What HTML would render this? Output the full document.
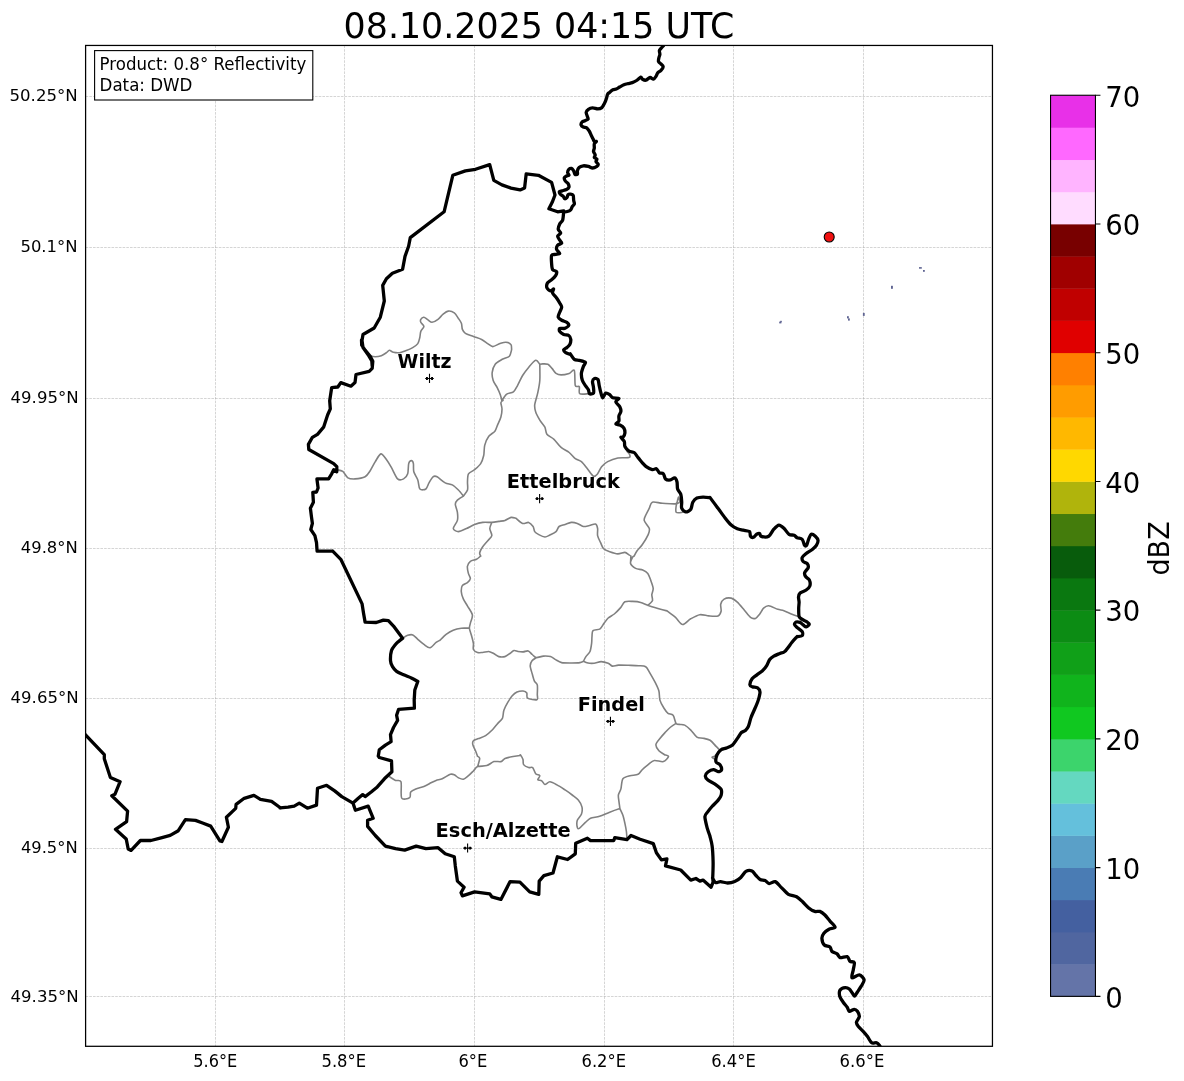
<!DOCTYPE html>
<html lang="en"><head><meta charset="utf-8"><title>Radar 08.10.2025 04:15 UTC</title>
<style>html,body{margin:0;padding:0;background:#fff}svg{display:block}text{font-family:"DejaVu Sans","Liberation Sans",sans-serif;fill:#000}.b{font-weight:bold}</style></head><body>
<svg width="1184" height="1081" viewBox="0 0 1184 1081">
<rect width="1184" height="1081" fill="#fff"/>
<defs><clipPath id="ax"><rect x="85.6" y="45.45" width="906.85" height="1000.85"/></clipPath></defs>
<path d="M215.5 45.45V1046.3M344.5 45.45V1046.3M474.5 45.45V1046.3M604.5 45.45V1046.3M733.5 45.45V1046.3M863.5 45.45V1046.3M85.6 96.5H992.45M85.6 247.5H992.45M85.6 398.5H992.45M85.6 548.5H992.45M85.6 698.5H992.45M85.6 848.5H992.45M85.6 996.5H992.45" stroke="#999" stroke-opacity="0.52" stroke-width="0.8" stroke-dasharray="2.6 1.1" fill="none"/>
<g fill="#5f6492"><rect x="779.2" y="321.6" width="2.2" height="1.8"/><rect x="780.2" y="320.8" width="1.6" height="1.4"/><rect x="847" y="316.2" width="1.8" height="2.2"/><rect x="848" y="318.4" width="1.8" height="2.2"/><rect x="862.9" y="312.9" width="1.8" height="3"/><rect x="891" y="285.8" width="1.9" height="3"/><rect x="919" y="267.1" width="2.8" height="1.6"/><rect x="923" y="270" width="1.8" height="1.8"/></g>

<g clip-path="url(#ax)" fill="none" stroke-linejoin="round" stroke-linecap="round">
<path stroke="#808080" stroke-width="1.6" d="M369.1 355.7C370.0 355.9 373.5 356.8 375.2 356.8C376.9 356.8 379.7 356.3 381.3 355.7C382.9 355.1 385.2 353.5 386.4 352.7C387.6 351.9 388.4 350.4 389.4 350.3C390.4 350.2 392.0 352.0 393.4 352.3C394.8 352.6 397.8 352.9 399.5 352.7C401.2 352.5 403.7 351.4 405.6 350.7C407.5 350.0 411.0 348.6 412.7 347.6C414.4 346.6 416.8 345.0 417.8 343.6C418.8 342.2 419.4 339.2 419.8 337.5C420.2 335.8 420.2 333.0 420.8 331.4C421.4 329.8 423.9 327.7 423.9 326.4C423.9 325.1 421.2 323.3 420.8 322.3C420.4 321.3 420.4 320.0 420.8 319.3C421.2 318.6 422.9 317.1 423.9 317.2C424.9 317.3 426.7 319.2 427.9 319.9C429.1 320.6 430.6 322.4 432 322.3C433.4 322.2 436.4 320.5 438 319.3C439.6 318.1 441.6 315.4 443.1 314.2C444.6 313.0 446.6 311.3 448.2 311.1C449.8 310.9 452.9 311.8 454.3 312.8C455.7 313.8 457.3 316.7 458.3 318.2C459.3 319.7 460.8 321.7 461.4 323.3C462.0 324.9 461.8 328.0 462.4 329.4C463.0 330.8 463.8 332.4 465.4 333.4C467.0 334.4 471.2 335.6 473.5 336.5C475.8 337.4 479.6 338.5 481.6 339.5C483.6 340.5 486.1 342.6 487.7 343.6C489.3 344.6 491.1 346.6 492.8 346.6C494.5 346.6 498.0 344.2 499.9 343.6C501.8 343.0 504.3 342.1 505.9 342.2C507.5 342.3 510.2 343.5 511 344.6C511.8 345.7 511.5 349.0 511.6 349.7M336.8 469.7C337.7 469.9 341.2 470.2 342.8 471.4C344.4 472.6 346.2 476.7 347.9 477.8C349.6 478.9 352.5 479.0 355 478.9C357.5 478.8 362.9 478.0 365.1 476.8C367.3 475.6 368.7 472.9 370.2 470.7C371.7 468.5 373.8 464.0 375.3 461.6C376.8 459.2 379.3 454.2 380.9 453.9C382.5 453.6 384.9 457.6 386.4 459.6C387.9 461.6 389.9 464.9 391.5 467.7C393.1 470.5 395.9 477.3 397.6 478.9C399.3 480.5 402.2 479.6 403.6 478.9C405.0 478.2 407.0 476.0 407.7 473.8C408.4 471.6 408.2 465.5 408.7 463.6C409.2 461.7 410.7 460.6 411.4 460.6C412.1 460.6 413.1 462.0 413.4 463.6C413.7 465.2 413.2 469.5 413.8 471.8C414.4 474.1 416.9 477.4 417.8 479.9C418.7 482.4 418.7 487.7 419.9 489C421.1 490.3 424.6 489.9 425.9 489C427.2 488.1 428.0 484.6 429 482.9C430.0 481.2 431.8 477.7 433 476.8C434.2 475.9 435.4 475.9 437.1 476.8C438.8 477.7 443.0 481.7 445.2 482.9C447.4 484.1 450.4 483.9 452.3 484.9C454.2 485.9 456.8 488.4 458.4 490C460.0 491.6 462.7 495.2 463.4 496.1M463.4 496.1C464.0 495.2 466.9 492.0 467.5 490C468.1 488.0 467.4 484.2 467.5 481.9C467.6 479.6 467.5 475.5 468.5 473.8C469.5 472.1 472.9 471.2 474.6 469.7C476.3 468.2 479.4 465.6 480.7 463.6C482.0 461.6 483.1 458.1 483.7 455.5C484.3 452.9 484.0 448.1 484.7 445.4C485.4 442.7 487.3 438.3 488.8 436.3C490.3 434.3 493.6 432.9 494.9 431.2C496.2 429.5 497.0 426.1 497.9 424.1C498.8 422.1 500.3 419.2 500.9 417C501.5 414.8 502.0 410.9 502 408.9C502.0 406.9 500.8 404.0 500.9 402.8C501.0 401.6 502.7 400.7 503 400.4M463.4 496.1C462.5 496.7 458.6 498.9 457.4 500.1C456.2 501.3 455.3 502.5 455.3 504.2C455.3 505.9 457.1 510.0 457.4 512.3C457.7 514.6 458.0 518.1 457.4 520.4C456.8 522.7 453.2 526.9 453.3 528.5C453.4 530.1 456.5 531.6 458.4 531.6C460.3 531.6 464.2 529.5 466.5 528.5C468.8 527.5 472.3 525.4 474.6 524.5C476.9 523.6 480.2 522.7 482.7 522.4C485.2 522.1 489.5 522.5 491.8 522.4C494.1 522.3 497.0 521.7 498.9 521.4C500.8 521.1 503.3 521.0 505 520.4C506.7 519.8 509.5 517.7 511.1 517.4C512.7 517.1 515.4 518.3 516.1 518.4M491.8 522.4C491.5 523.3 489.8 526.6 489.8 528.5C489.8 530.4 492.1 533.9 491.8 535.6C491.5 537.3 489.1 539.1 487.8 540.7C486.5 542.3 483.9 545.1 482.7 546.8C481.5 548.5 480.0 551.5 479.7 552.8C479.4 554.1 480.6 555.6 480.7 556.1M511.6 349.7C511.3 350.6 510.7 354.8 509.4 356.2C508.1 357.6 504.3 358.1 502.3 359.3C500.3 360.5 496.6 362.4 495.2 364.3C493.8 366.2 492.5 370.1 492.2 372.4C491.9 374.7 492.5 378.3 493.2 380.5C493.9 382.7 496.2 385.6 497.2 387.6C498.2 389.6 499.6 392.8 500.3 394.7C501.0 396.6 501.7 399.9 501.9 400.8M501.9 400.8C502.5 399.9 504.8 395.6 506.4 394.3C508.0 393.0 511.8 393.1 513.4 391.9C515.0 390.7 516.2 387.9 517.5 385.6C518.8 383.3 521.0 378.1 522.6 375.5C524.2 372.9 526.7 369.6 528.6 367.4C530.5 365.2 534.1 360.7 535.7 360.3C537.3 359.9 539.2 363.7 539.8 364.3M539.8 364.3C539.8 366.6 540.1 376.4 539.8 380.5C539.5 384.6 538.5 389.2 537.8 392.7C537.1 396.2 535.0 402.1 534.7 404.9C534.4 407.7 535.0 409.8 535.7 412C536.4 414.2 538.5 417.9 539.8 420.1C541.1 422.3 543.9 425.2 544.9 427.2C545.9 429.2 545.6 432.6 546.9 434.3C548.2 436.0 552.0 437.4 554 439.3C556.0 441.2 558.9 445.5 561.1 447.4C563.3 449.3 567.2 450.9 569.2 452.5C571.2 454.1 573.6 457.3 575.3 458.6C577.0 459.9 579.7 460.2 581.4 461.6C583.1 463.0 585.7 466.6 587.4 468.7C589.1 470.8 592.0 475.5 593.5 476.2C595.0 476.9 596.4 475.2 597.6 473.8C598.8 472.4 600.2 468.4 601.6 466.7C603.0 465.0 605.4 462.8 607.7 461.6C610.0 460.4 614.8 458.6 617.8 458C620.8 457.4 627.3 458.1 629 457.6C630.7 457.1 629.9 455.4 629.6 454.5C629.3 453.6 627.4 451.9 627 451.5M539.8 364.3C540.2 364.2 541.6 363.9 542.8 363.9C544.0 363.9 546.6 363.7 547.9 364.3C549.2 364.9 550.8 367.1 552 368.4C553.2 369.7 554.7 372.5 556 373.4C557.3 374.3 559.2 374.9 561.1 374.9C563.0 374.9 567.3 374.0 569.2 373.4C571.1 372.8 573.4 368.7 574.3 370.4C575.2 372.1 574.6 383.3 575.3 385.6C576.0 387.9 578.7 385.4 579.3 386.6C579.9 387.8 578.4 392.7 579.7 393.7C581.0 394.7 587.2 393.7 588.4 393.7M516.1 518.4C517.0 519.1 520.8 522.8 522.6 523.4C524.4 524.0 527.1 522.0 528.6 522.4C530.1 522.8 532.2 525.2 533.1 526.5C534.0 527.8 533.9 530.4 534.7 531.6C535.5 532.8 537.3 533.8 538.8 534.6C540.3 535.4 543.3 536.9 544.9 537C546.5 537.1 548.3 535.8 549.9 535C551.5 534.2 554.7 532.8 556 531.6C557.3 530.4 557.8 527.5 559.1 526.5C560.4 525.5 563.4 525.1 565.1 524.5C566.8 523.9 569.5 522.6 571.2 522.4C572.9 522.2 575.6 522.8 577.3 523.4C579.0 524.0 581.7 526.2 583.4 526.5C585.1 526.8 587.8 525.8 589.5 525.5C591.2 525.2 594.3 523.7 595.5 524.1C596.7 524.5 597.3 526.9 597.6 528.5C597.9 530.1 597.2 533.6 597.6 535.6C598.0 537.6 599.7 540.8 600.6 542.7C601.5 544.6 602.3 547.5 603.6 548.8C604.9 550.1 607.7 551.1 609.7 551.8C611.7 552.5 615.6 553.8 617.8 553.9C620.0 554.0 623.3 552.3 624.9 552.4C626.5 552.5 628.1 554.4 629 554.9C629.9 555.4 630.7 555.9 631 556.1M634.1 556.1C634.5 555.3 635.9 552.4 637.1 550.8C638.3 549.2 640.6 547.0 642.2 544.7C643.8 542.4 647.2 536.9 648.2 534.6C649.2 532.3 649.9 530.5 649.3 528.5C648.7 526.5 644.6 522.4 644.2 520.4C643.8 518.4 645.5 516.0 646.2 514.3C646.9 512.6 648.4 509.9 649.3 508.2C650.2 506.5 650.4 502.9 652.3 502.2C654.2 501.5 659.1 503.0 662.4 503.2C665.7 503.4 673.4 504.2 675.6 503.8C677.8 503.4 677.2 501.1 677.6 500.1C678.0 499.1 678.3 496.8 678.6 497.1C678.9 497.4 680.0 501.2 679.7 502.2C679.4 503.2 677.1 502.8 676.6 504.2C676.1 505.6 675.3 511.1 676.2 512.3C677.1 513.5 681.8 512.3 682.7 512.3M667 610.9C668.2 611.8 673.3 615.5 675.5 617.4C677.7 619.3 680.4 624.3 682.6 624.5C684.8 624.7 688.2 620.2 690.7 618.8C693.2 617.4 697.2 615.1 699.8 614.7C702.4 614.3 706.3 615.7 708.9 615.9C711.5 616.1 716.3 616.6 718 615.9C719.7 615.2 720.7 613.0 721.1 611.3C721.5 609.6 720.3 605.9 720.7 604.2C721.1 602.5 722.6 600.0 724.1 599.1C725.6 598.2 729.3 597.7 731.2 598.1C733.1 598.5 735.4 600.5 737.3 602.2C739.2 603.9 742.5 608.1 744.4 610.3C746.3 612.5 748.9 616.2 750.5 617.4C752.1 618.6 754.2 618.8 755.5 618.4C756.8 618.0 758.4 615.8 759.6 614.3C760.8 612.8 762.3 609.4 763.6 608.2C764.9 607.0 766.7 605.6 768.7 605.8C770.7 606.0 775.6 608.6 777.8 609.3C780.0 610.0 781.9 610.0 783.9 610.7C785.9 611.4 789.8 613.4 792 614.3C794.2 615.2 798.1 616.4 799.1 616.8M480.5 556.2C479.9 556.6 477.9 558.6 476.5 559.3C475.1 560.0 471.7 560.3 470.4 561.3C469.1 562.3 467.7 564.7 467.4 566.4C467.1 568.1 468.0 571.7 468.4 573.4C468.8 575.1 470.5 577.2 470.4 578.5C470.3 579.8 468.6 581.6 467.4 582.6C466.2 583.6 463.2 584.3 462.3 585.6C461.4 586.9 461.2 589.8 461.3 591.7C461.4 593.6 462.4 596.8 463.3 598.8C464.2 600.8 466.1 603.6 467.4 605.9C468.7 608.2 472.0 612.5 472.4 615C472.8 617.5 470.8 621.2 470.4 623.1C470.0 625.0 469.3 626.5 469.4 628.2C469.5 629.9 470.8 633.1 471.4 635.3C472.0 637.5 473.1 641.4 473.4 643.4C473.7 645.4 472.8 648.2 473.4 649.5C474.0 650.8 476.2 652.1 477.5 652.5C478.8 652.9 481.0 652.6 482.6 652.5C484.2 652.4 487.0 651.4 488.6 651.5C490.2 651.6 492.2 652.8 493.7 653.5C495.2 654.2 497.2 656.2 498.8 656.6C500.4 657.0 503.3 657.0 504.9 656.6C506.5 656.2 508.6 654.4 509.9 653.5C511.2 652.6 512.8 650.8 514 650.5C515.2 650.2 516.7 651.3 518 651.5C519.3 651.7 521.6 652.0 523.1 651.9C524.6 651.8 526.9 650.5 528.2 650.9C529.5 651.3 531.0 653.5 532.2 654.5C533.4 655.5 534.7 657.4 536.3 657.6C537.9 657.8 541.4 656.2 543.4 656.1C545.4 656.0 548.8 656.1 550.5 656.6C552.2 657.1 553.9 658.7 555.5 659.6C557.1 660.5 559.3 662.1 561.6 662.6C563.9 663.1 569.2 663.0 571.8 663C574.4 663.0 578.2 662.9 579.9 662.6C581.6 662.3 583.0 661.4 583.5 661.2M440 640.3C440.9 639.4 444.2 635.7 446.1 634.3C448.0 632.9 451.0 631.1 453.2 630.2C455.4 629.3 459.0 628.5 461.3 628.2C463.6 627.9 468.2 628.2 469.4 628.2M583.5 661.2C583.8 660.5 585.0 658.0 585.9 656.6C586.8 655.2 589.2 653.4 590 651.5C590.8 649.6 591.3 645.6 591.6 643.4C591.9 641.2 591.8 638.1 592 636.3C592.2 634.5 591.8 631.7 593 630.6C594.2 629.5 598.5 629.9 600.1 628.8C601.7 627.7 603.0 624.6 604.2 623.1C605.4 621.6 606.8 619.3 608.2 618C609.6 616.7 612.6 615.4 614.3 614C616.0 612.6 618.9 609.6 620.4 607.9C621.9 606.2 623.2 602.7 624.9 601.8C626.6 600.9 630.3 601.3 632.6 601.4C634.9 601.5 638.5 601.8 640.7 602.4C642.9 603.0 645.3 604.4 647.8 605.3C650.3 606.2 655.2 607.7 657.9 608.5C660.6 609.3 665.7 610.6 667 610.9M647.8 605.3C648.5 604.7 651.8 602.3 652.4 600.8C653.0 599.3 651.7 596.4 651.8 594.7C651.9 593.0 653.3 590.6 653.2 588.6C653.1 586.6 651.6 582.7 650.8 580.5C650.0 578.3 649.0 574.9 647.8 573.4C646.6 571.9 644.4 570.7 642.7 570C641.0 569.3 637.3 569.4 635.6 568.4C633.9 567.4 630.9 564.9 630.5 563.3C630.1 561.7 632.1 558.2 632.6 557.2C633.1 556.2 633.8 556.2 634 556M630.9 556L630.5 563.3M583.5 661.2C584.1 661.5 586.5 662.7 588 663C589.5 663.3 592.2 663.4 594.1 663.2C596.0 663.0 599.1 661.6 601.1 661.6C603.1 661.6 606.6 662.6 608.2 663.2C609.8 663.8 610.8 665.8 612.3 666.1C613.8 666.4 616.1 665.2 618.4 665.1C620.7 665.0 625.6 665.2 628.5 665.3C631.4 665.4 636.1 665.5 638.6 665.7C641.1 665.9 644.1 665.7 645.7 666.7C647.3 667.7 648.5 670.6 649.8 672.8C651.1 675.0 653.6 679.3 654.9 681.9C656.2 684.5 658.2 688.4 658.9 691C659.6 693.6 659.2 697.6 659.9 700.1C660.6 702.6 662.8 706.3 664 708.2C665.2 710.1 666.7 712.3 668 713.3C669.3 714.3 671.9 713.9 673.1 715.3C674.3 716.7 675.1 722.1 676.1 723.4C677.1 724.7 679.4 724.3 680 724.5M676.1 723.4C675.2 724.0 671.7 726.2 670.1 727.5C668.5 728.8 666.5 731.0 665 732.6C663.5 734.2 661.2 736.9 659.9 738.6C658.6 740.3 656.0 743.0 655.9 744.7C655.8 746.4 657.6 749.3 658.9 750.8C660.2 752.3 664.1 754.3 665 754.9M536.3 657.6C535.7 658.0 533.1 659.4 532.2 660.6C531.3 661.8 530.2 663.8 530.2 665.7C530.2 667.6 531.6 671.6 532.2 673.8C532.8 676.0 533.6 679.3 534.3 680.9C535.0 682.5 536.9 683.0 537.3 684.9C537.7 686.8 537.4 692.0 537.3 694.1C537.2 696.2 538.3 699.1 536.9 699.7C535.5 700.3 529.0 699.1 527.6 698.1C526.2 697.1 527.4 694.0 526.8 693C526.2 692.0 524.5 691.1 523.1 691C521.7 690.9 518.6 691.3 517 692C515.4 692.7 513.3 694.6 512 696.1C510.7 697.6 509.1 700.2 507.9 702.2C506.7 704.2 504.7 708.0 503.9 710.3C503.1 712.6 503.3 716.5 502.4 718.4C501.5 720.3 499.2 721.8 497.8 723.4C496.4 725.0 494.4 727.8 492.7 729.5C491.0 731.2 487.6 734.3 485.6 735.6C483.6 736.9 480.2 737.9 478.5 738.6C476.8 739.3 474.2 739.8 473.4 740.7C472.6 741.6 472.5 743.3 472.8 744.7C473.1 746.1 474.8 749.2 475.5 750.8C476.2 752.4 477.2 755.3 477.5 756.1M402.6 638.3C403.3 637.9 406.2 635.8 407.7 635.3C409.2 634.8 411.4 634.3 412.8 634.9C414.2 635.5 416.2 637.9 417.8 639.3C419.4 640.7 422.2 643.2 423.9 644.4C425.6 645.6 428.3 648.1 430 647.8C431.7 647.5 434.7 643.5 436.1 642.4C437.5 641.3 439.4 640.6 439.9 640.3M389.5 776.8C390.4 777.3 393.9 779.7 395.5 780.4C397.1 781.1 400.1 779.3 401 781.8C401.9 784.3 400.4 795.7 401.6 798C402.8 800.3 408.4 798.5 409.7 797.6C411.0 796.7 409.8 793.2 410.7 792C411.6 790.8 413.9 789.7 415.8 788.9C417.7 788.1 421.7 787.4 423.9 786.5C426.1 785.6 429.3 783.7 431 782.8C432.7 781.9 434.5 781.0 436.1 780.4C437.7 779.8 440.2 779.7 442.2 778.8C444.2 777.9 448.6 774.9 450.3 774.3C452.0 773.7 453.1 774.2 454.3 774.7C455.5 775.2 457.1 777.2 458.4 777.8C459.7 778.4 462.0 779.5 463.4 779.2C464.8 778.9 467.0 776.9 468.5 775.7C470.0 774.5 472.3 772.0 473.6 770.7C474.9 769.4 475.7 767.3 477.6 766.6C479.5 765.9 484.5 766.3 486.8 765.6C489.1 764.9 491.9 762.2 493.9 761.6C495.9 761.0 499.3 762.0 500.9 761.6C502.5 761.2 503.3 759.2 505 758.5C506.7 757.8 511.0 756.9 513.1 756.5C515.2 756.1 519.0 755.6 520 755.5M477.6 766.6C477.9 765.4 479.7 760.0 479.7 758.5C479.7 757.0 477.7 756.4 477.4 756.1M519.9 755.5C520.0 755.4 520.1 754.3 520.5 754.9C520.9 755.5 522.6 758.1 523 759.5C523.4 760.9 522.8 763.4 523.6 764.6C524.4 765.8 527.3 767.2 528.6 767.6C529.9 768.0 531.7 766.7 532.7 767.6C533.7 768.5 534.7 772.5 535.7 773.7C536.7 774.9 539.5 774.8 539.8 775.7C540.1 776.6 537.5 779.1 537.8 779.8C538.1 780.5 540.8 780.1 541.8 780.8C542.8 781.5 543.7 784.4 544.9 784.5C546.1 784.6 548.2 781.7 549.9 781.8C551.6 781.9 554.8 783.7 557 784.9C559.2 786.1 562.9 788.5 565.1 789.9C567.3 791.3 570.3 793.5 572.2 795C574.1 796.5 576.9 798.4 578.3 800.1C579.7 801.8 581.6 805.2 582 807.2C582.4 809.2 582.1 812.4 581.4 814.3C580.7 816.2 577.9 818.4 577.3 820.3C576.7 822.2 577.0 826.2 577.3 827.4C577.6 828.6 578.1 829.1 579.3 828.4C580.5 827.7 583.8 823.8 585.4 822.4C587.0 821.0 588.5 819.2 590.5 818.3C592.5 817.4 596.9 817.2 599.6 816.3C602.3 815.4 606.8 813.3 609.7 812.2C612.6 811.1 618.4 809.1 619.9 808.6M619.9 808.6C619.8 807.5 619.1 803.0 618.9 801.1C618.7 799.2 618.1 796.7 618.4 795C618.7 793.3 620.3 791.2 620.9 788.9C621.5 786.6 621.6 780.7 622.9 778.8C624.2 776.9 627.8 776.3 630 775.7C632.2 775.1 636.4 775.2 638.1 774.3C639.8 773.4 640.8 771.1 642.2 769.7C643.6 768.3 646.5 765.9 648.2 764.6C649.9 763.3 652.1 760.9 654.3 760.5C656.5 760.1 661.4 762.2 663.4 761.6C665.4 761.0 668.3 757.5 668.5 756.5C668.7 755.5 665.4 755.1 664.9 754.9M680.1 724.5C680.8 724.6 683.2 724.3 684.7 725.1C686.2 725.9 689.1 728.4 690.8 730.1C692.5 731.8 695.2 736.0 696.9 737.2C698.6 738.4 701.1 737.8 703 738.2C704.9 738.6 708.2 739.1 710.1 740.3C712.0 741.5 714.7 745.0 716.1 746.4C717.5 747.8 719.4 749.8 720 750.4M619.9 808.6C620.3 809.6 622.2 813.2 622.9 815.3C623.6 817.4 624.4 821.1 624.9 823.4C625.4 825.7 626.1 829.2 626.4 831.5C626.7 833.8 626.9 838.4 627 839.6M719.5 750.7C718.9 751.4 716.1 754.8 715 755.8C713.9 756.8 711.9 756.9 712 757.4C712.1 757.9 714.9 759.2 715.4 759.5"/>
<path stroke="#000" stroke-width="3.3" d="M663.6 45.6C663.2 46.0 661.6 47.7 661 48.4C660.4 49.1 659.6 49.6 659.4 50.5C659.2 51.4 660.0 53.4 659.9 54.4C659.8 55.4 659.1 56.7 658.9 57.7C658.7 58.7 658.2 60.7 658.5 61.6C658.8 62.5 660.3 63.3 661 64C661.7 64.7 663.2 65.8 663.2 66.7C663.2 67.6 661.8 69.5 661 70.4C660.2 71.3 658.4 72.1 657.7 72.9C657.0 73.7 656.6 75.4 656 76.3C655.4 77.2 654.2 79.0 653.4 79.2C652.6 79.4 651.2 77.4 650.1 77.5C649.0 77.6 646.9 80.0 645.8 80.2C644.7 80.4 643.2 79.6 642.5 79.2C641.8 78.8 641.6 77.0 640.8 77.2C640.0 77.4 637.8 79.7 636.6 80.5C635.4 81.3 633.5 82.2 632.3 82.6C631.1 83.0 629.3 83.3 628.1 83.6C626.9 83.9 625.1 84.3 623.9 84.8C622.7 85.3 620.8 86.4 619.7 87C618.6 87.6 617.3 88.6 616.3 89C615.3 89.4 613.9 89.3 612.9 89.8C611.9 90.3 610.3 91.7 609.5 92.4C608.7 93.1 607.9 93.6 607.5 94.4C607.1 95.2 606.9 97.0 606.5 98.3C606.1 99.6 605.2 102.0 604.5 103.3C603.8 104.6 602.9 106.8 601.9 107.6C600.9 108.4 599.0 108.9 597.7 108.9C596.4 108.9 593.9 107.8 592.6 107.9C591.3 108.0 589.3 108.7 588.4 109.3C587.5 109.9 586.4 111.3 586.2 112.3C586.0 113.3 586.9 115.0 587.2 116C587.5 117.0 588.4 118.4 588.1 119.1C587.8 119.8 585.8 120.3 585 120.7C584.2 121.1 582.8 121.3 582.2 121.9C581.6 122.5 580.9 124.3 581.1 125C581.3 125.7 582.5 126.6 583.3 127C584.1 127.4 585.8 127.2 586.7 127.8C587.6 128.4 588.7 130.2 589.3 131.2C589.9 132.2 590.4 133.5 590.9 134.6C591.4 135.7 592.5 137.8 593 138.8C593.5 139.8 593.8 141.0 594.3 141.4C594.8 141.8 596.4 141.0 596.4 141.4C596.4 141.8 594.6 142.9 594.3 143.9C594.0 144.9 594.4 147.0 594.3 148.1C594.2 149.2 593.4 150.5 593.5 151.5C593.6 152.5 595.1 154.1 595.2 154.9C595.3 155.7 594.1 156.8 594.3 157.4C594.5 158.0 596.7 158.5 596.9 159.1C597.1 159.7 595.8 160.9 596 161.6C596.2 162.3 598.1 163.5 598.2 164.2C598.3 164.9 597.7 165.9 596.9 166.4C596.1 166.9 593.8 168.0 592.6 168C591.4 168.0 589.7 166.7 588.4 166.4C587.1 166.1 584.6 165.6 583.3 165.8C582.0 166.0 579.9 166.8 579.1 167.5C578.3 168.2 577.6 169.9 577.4 170.9C577.2 171.9 577.8 173.8 577.4 174.3C577.0 174.8 575.4 174.8 574.9 174.3C574.4 173.8 574.2 171.7 573.7 170.9C573.2 170.1 572.2 168.6 571.5 168.4C570.8 168.2 569.6 168.6 569 169.2C568.4 169.8 567.6 171.8 567.6 172.6C567.6 173.4 569.2 174.6 569 175.1C568.8 175.6 567.2 175.6 566.5 176C565.8 176.4 564.5 177.0 564.3 177.7C564.1 178.4 564.8 180.2 565.3 181C565.8 181.8 567.6 182.7 568.1 183.6C568.6 184.5 569.2 186.2 569 187C568.8 187.8 567.5 189.0 566.5 189.5C565.5 190.0 563.2 190.5 562.2 190.8C561.2 191.1 559.7 191.0 559.4 191.5C559.1 192.0 559.7 193.4 560.2 194.1C560.7 194.8 562.4 195.5 563.1 196.2C563.8 196.9 564.2 198.6 564.8 198.8C565.4 199.0 566.5 198.0 567 197.4C567.5 196.8 567.6 195.1 568.1 194.6C568.6 194.1 570.0 194.0 570.7 194.1C571.4 194.2 572.8 194.5 573.2 195.4C573.6 196.3 573.5 199.3 573.7 200.5C573.9 201.7 574.6 203.1 574.4 203.9C574.2 204.7 572.9 205.6 572.4 206.4C571.9 207.2 571.4 209.1 570.7 209.8C570.0 210.5 568.3 211.2 567.3 211.5C566.3 211.8 564.4 211.9 563.9 212M372.2 366.1L371.8 360.8L368.1 354.7L363 347.6L362 340.5L363 334.5L374.2 328L380.3 317.2L384.3 301L382.7 285.4L386.4 278.7L392.4 273.2L402.6 269.2L405 256.4L408.6 246.3L410.3 237.6L444.1 211.8L452.8 175.3L465.4 170.9L475.5 169.3L489.7 164.6L493.8 180.4L501.9 184.9L511 188.1L520.1 189.9L524.6 187.9L526.2 173.9L538.4 175.3L551.6 182.4L555 195L552.2 202.3L548.9 208.8L557.6 211.8L563.7 210.8M563.7 210.8C563.6 212.1 563.3 218.0 562.7 219.9C562.1 221.8 560.3 222.7 559.7 224C559.1 225.3 558.1 227.8 558.2 229.1C558.3 230.4 560.8 232.1 560.7 233.1C560.6 234.1 557.7 235.1 557.6 236.1C557.5 237.1 559.1 239.2 559.7 240.2C560.3 241.2 562.0 242.5 561.7 243.2C561.4 243.9 558.3 244.4 557.6 245.3C556.9 246.2 556.3 248.1 556.6 249.3C556.9 250.5 559.8 252.7 559.7 253.4C559.6 254.1 556.8 254.1 555.6 254.4C554.4 254.7 552.2 254.1 551.6 255.4C551.0 256.7 551.5 261.5 551.6 263.5C551.7 265.5 551.9 268.4 552.6 269.6C553.3 270.8 556.2 270.7 556.6 271.6C557.0 272.5 556.3 274.5 555.6 275.7C554.9 276.9 552.8 278.7 551.6 279.7C550.4 280.7 548.2 281.6 547.5 282.8C546.8 284.0 546.5 286.6 546.9 287.8C547.3 289.0 549.5 290.7 550.5 290.9C551.5 291.1 553.3 288.6 553.6 288.9C553.9 289.2 552.2 291.6 552.6 292.9C553.0 294.2 555.6 296.6 556.6 298C557.6 299.4 559.0 301.7 559.7 303C560.4 304.3 561.7 305.8 561.7 307.1C561.7 308.4 560.2 310.8 559.7 312.2C559.2 313.6 557.9 316.0 558.2 317.2C558.5 318.4 560.5 319.6 561.7 320.3C562.9 321.0 565.8 321.6 566.8 322.3C567.8 323.0 569.1 324.4 568.8 325.3C568.5 326.2 566.0 328.0 564.7 328.4C563.4 328.8 560.4 328.0 559.7 328.4C559.0 328.8 559.1 330.5 559.7 331.4C560.3 332.3 562.4 333.9 563.7 334.5C565.0 335.1 567.8 334.8 568.8 335.5C569.8 336.2 570.7 338.2 570.8 339.5C570.9 340.8 570.4 343.4 569.8 344.6C569.2 345.8 567.7 346.9 566.8 347.6C565.9 348.3 563.9 349.0 563.7 349.7C563.5 350.4 564.7 352.0 565.7 352.7C566.7 353.4 570.1 354.4 570.8 354.7M361.5 340L361.7 345.1L365.1 350.1L370.2 356.2L372.8 361.3L372.2 368.4L369.2 371.4L356 374.5L355 382.6L350.9 386.2L340.8 382.6L337.8 387L331.7 387.6L329.7 400.8L330.3 408.9L327.6 415L323.6 427.2L317.5 434.3L312.4 437.3L308.4 444.4L308.8 449.5L333.7 463.6L336.8 466.7L336.8 471.8L333.7 469.7L331.7 473.8L328.6 478.9L316.9 478.9L318.1 488L316.5 492L312.8 492.4L313.4 502.2L310.4 508.2L311.4 516.4L312.4 523.4L310.8 529.5L314.9 535.6L316.5 542.7L317.1 551.2L332.7 551.2M570.2 353.8C570.8 354.6 573.0 358.4 574.3 359.3C575.6 360.2 577.7 359.9 579.3 360.3C580.9 360.7 584.8 361.4 585.4 362.3C586.0 363.2 584.0 364.8 583.4 366.4C582.8 368.0 581.5 371.4 581.4 373.4C581.3 375.4 581.8 378.8 582.4 380.5C583.0 382.2 584.5 384.3 585.4 385.6C586.3 386.9 587.8 388.5 588.4 389.7C589.0 390.9 588.8 393.2 589.5 393.7C590.2 394.2 592.9 394.0 593.5 393.1C594.1 392.2 593.6 389.2 593.5 387.6C593.4 386.0 592.4 382.9 592.5 381.6C592.6 380.3 593.7 378.8 594.5 378.5C595.3 378.2 597.3 378.5 598 379.5C598.7 380.5 598.8 383.9 599.2 385.6C599.6 387.3 600.1 390.0 600.6 391.7C601.1 393.4 601.9 397.6 602.6 397.8C603.3 398.0 604.7 393.5 605.7 393.1C606.7 392.7 608.7 394.0 609.7 394.7C610.7 395.4 611.5 397.3 612.8 397.8C614.1 398.3 618.5 397.8 618.9 398.4C619.3 399.0 615.7 400.6 615.8 401.8C615.9 403.0 619.2 405.5 619.9 406.9C620.6 408.3 621.0 410.1 620.9 411.4C620.8 412.7 619.2 414.6 618.9 416C618.6 417.4 619.3 419.9 618.9 421.1C618.5 422.3 615.7 423.5 615.8 424.1C615.9 424.7 618.7 424.5 619.9 425.1C621.1 425.7 623.2 427.0 623.9 428.2C624.6 429.4 625.0 431.9 624.9 433.2C624.8 434.5 623.5 436.7 622.9 437.3C622.3 437.9 620.7 436.7 620.9 437.3C621.1 437.9 623.7 440.1 624.3 441.4C624.9 442.7 624.2 445.0 624.9 446.4C625.6 447.8 627.7 450.2 629 451.1C630.3 452.0 632.8 451.6 634.1 452.5C635.4 453.4 636.9 456.2 638.1 457.6C639.3 459.0 641.0 461.3 642.2 462.6C643.4 463.9 644.8 465.7 646.2 466.7C647.6 467.7 650.8 469.4 652.3 469.7C653.8 470.0 655.4 468.3 656.4 468.7C657.4 469.1 658.4 472.1 659.4 472.8C660.4 473.5 662.5 472.9 663.4 473.8C664.3 474.7 664.5 478.0 665.5 478.9C666.5 479.8 669.2 480.1 670.5 479.9C671.8 479.7 673.7 477.5 674.6 477.8C675.5 478.1 676.6 480.3 677 481.9C677.4 483.5 677.1 487.3 677.6 489C678.1 490.7 680.1 492.2 680.7 494.1C681.3 496.0 681.6 500.2 681.7 502.2C681.8 504.2 681.1 506.8 681.7 508.2C682.3 509.6 684.4 511.7 685.7 511.9C687.0 512.1 689.8 510.7 690.8 509.3C691.8 507.9 691.9 503.8 692.8 502.2C693.7 500.6 695.4 498.8 696.9 498.1C698.4 497.4 701.1 497.2 703 497.1C704.9 497.0 709.1 497.6 710.1 497.7M709.9 497.4C710.9 498.8 714.8 504.0 717 506.9C719.2 509.8 723.1 515.4 725.1 518C727.1 520.6 729.5 523.6 731.2 525.1C732.9 526.6 735.6 528.1 737.3 528.8C739.0 529.5 741.7 529.8 743.4 530.2C745.1 530.6 748.5 530.7 749.5 531.6C750.5 532.5 749.9 535.5 750.5 536.3C751.1 537.1 752.6 537.6 753.5 537.3C754.4 537.0 755.7 534.8 756.6 534.3C757.5 533.8 758.9 533.3 759.6 533.6C760.3 533.9 759.9 535.9 761.2 536.3C762.5 536.7 766.9 537.3 768.7 536.3C770.5 535.3 772.3 530.8 773.8 529.2C775.3 527.6 777.5 525.2 778.9 525.1C780.3 525.0 782.5 526.9 783.9 528.2C785.3 529.5 787.5 533.3 789 534.3C790.5 535.3 792.9 534.8 794.1 535.3C795.3 535.8 795.9 537.1 797.1 537.7C798.3 538.3 801.1 538.2 802.2 539.3C803.3 540.4 804.0 544.5 804.6 545.4C805.2 546.3 806.0 546.3 806.6 545.4C807.2 544.5 807.9 540.9 808.6 539.3C809.3 537.7 810.3 534.7 811.3 534.3C812.3 533.9 814.3 535.4 815.3 536.3C816.3 537.2 817.8 539.0 818 540.3C818.2 541.6 817.2 544.1 816.4 545.4C815.6 546.7 813.8 548.3 812.3 549.5C810.8 550.7 807.6 552.3 806.2 553.5C804.8 554.7 802.6 556.4 802.2 557.6C801.8 558.8 802.5 560.7 803.2 561.6C803.9 562.5 806.5 562.7 807.2 563.6C807.9 564.5 808.6 566.4 808.2 567.7C807.8 569.0 804.9 571.5 804.6 572.8C804.3 574.1 805.1 575.8 805.8 576.8C806.5 577.8 808.7 578.6 809.3 579.9C809.9 581.2 810.3 584.5 809.9 585.9C809.5 587.3 807.6 589.0 806.2 590C804.8 591.0 801.2 592.0 800.1 593C799.0 594.0 798.6 595.8 798.5 597.1C798.4 598.4 799.1 600.6 799.1 602.2C799.1 603.8 798.7 606.2 798.7 608.2C798.7 610.2 798.6 614.8 799.1 616.4C799.6 618.0 801.2 618.7 802.2 619.4C803.2 620.1 805.2 620.7 806.2 621.4C807.2 622.1 809.3 623.3 809.3 624.1C809.3 624.9 807.1 626.8 806.2 626.9C805.3 627.0 804.1 625.5 803.2 624.9C802.3 624.3 801.1 622.8 800.1 622.4C799.1 622.0 796.9 621.7 796.1 622C795.3 622.3 794.4 623.7 794.5 624.5C794.6 625.3 796.0 626.5 797.1 627.5C798.2 628.5 801.5 630.4 802.2 631.6C802.9 632.8 802.9 634.9 802.2 635.6C801.5 636.3 797.8 636.5 797.1 636.6M332.7 551.1L340.8 559.3L362.1 603.9L363.5 613L365.1 622.1L376.3 622.5L383.4 620.1L388.4 620.7L393.5 626.1L402.6 638.3M402.6 638.3C402.0 638.7 399.6 640.5 398.6 641.4C397.6 642.3 396.5 643.1 395.5 644.4C394.5 645.7 392.2 648.2 391.5 650.5C390.8 652.8 390.4 658.3 390.5 660.6C390.6 662.9 391.6 665.2 392.5 666.7C393.4 668.2 395.0 670.2 396.6 671.4C398.2 672.6 401.4 673.8 403.6 674.8C405.8 675.8 409.8 677.2 411.8 678.2C413.8 679.2 416.9 681.0 417.8 681.5M417.8 681.5L414.8 690L414.2 700.1L414.4 708.2L398.6 709.3L396.6 715.3L397.6 720.4L393.5 727.5L390.5 734.6L391.1 741.7L385.4 745.1L379.3 749.8L378.3 756.1M378.3 756.1L379.3 757.5L391.5 760.9L391.9 771.7L384.4 778.8L377.3 786.9L371.2 792L365.1 796.6L362.7 794.6L358 798.6L353 803.1L355.4 810.2L368.2 806.1L373.2 818.3L367.6 820.3L367.6 826.4L375.3 835.5L385.4 846.1L395.5 848.7L404.7 850.1L416.2 846.1L425.9 848.7L438.1 847.7L445.2 853.8L454.3 856.8L455.3 865.9L457.4 881.1L464.1 887.2L461 892.7L462.4 895.9L474.6 891.9L489.8 893.9L491.8 896.8L500.9 899.4L510.1 881.6L520 882.2M353 803.1L341.8 796.6L334.7 790.9L326.6 785.3L317.5 788.3L316.5 805.1L307.4 808.2L299.3 803.1L294.2 806.1L288.1 807.2L280 807.8M84.1 733.4L104.3 754.7L104.3 758.8L110.4 777.4L120.1 781.7L114.9 794.3L111.8 795.7L127.6 811.1L126.6 821.6L115.5 829.3L126.2 838.9L128.2 849L131.1 850.4L140.4 840.5L150.9 840.5L161.1 837.8L170.2 835.4L178.3 830.7L185.4 819.6L195.5 820.4L202.6 823L210.7 826.1L219.9 840.9L221.9 841.5L228.4 827.3L226.4 817.2L235.7 808.4L236.1 804.4L244.2 798.3L253.9 795.3L260.4 799.3L271.6 801.4L280.7 808M519.9 882.2L529.7 891.9L538.8 894.3L539.2 881.1L543.9 875.7L553 873L557.4 856.8L567.6 859.5L575.3 853.8L575.7 843.2L587.4 838.2L590.5 840.6L613.8 840.6L614.8 837.6L627 839.6L631 835.5L640.1 839.2L653.3 843.6L656.4 852.8L661.4 859.9L666.9 858.9L665.5 865.9L680.7 870L690.8 880.1L695.9 878.5L699.9 881.1L703 880.1L711.1 887.2L713.1 882.2L712.7 878.1M712.7 878.1C712.8 875.8 713.2 866.5 713.1 861.9C713.0 857.3 712.6 849.4 712.1 845.7C711.6 842.0 710.2 837.5 709.9 836.1M797.1 636.6C796.4 637.4 793.7 640.2 792 642.3C790.3 644.4 786.6 649.8 784.9 651.4C783.2 653.0 781.5 652.7 779.9 653.4C778.3 654.1 775.3 655.2 773.8 656.1C772.3 657.0 770.7 658.1 769.7 659.5C768.7 660.9 767.7 664.0 766.7 665.6C765.7 667.2 764.0 669.3 762.6 670.7C761.2 672.1 758.1 673.9 756.6 675.1C755.1 676.3 753.1 677.4 752.1 678.8C751.1 680.2 749.8 683.7 749.9 684.9C750.0 686.1 751.4 686.5 752.5 686.9C753.6 687.3 756.5 687.2 757.6 687.9C758.7 688.6 759.9 690.4 760 692C760.1 693.6 759.2 696.9 758.6 699.1C758.0 701.3 756.6 704.6 755.5 707.2C754.4 709.8 752.1 714.6 751.1 717.3C750.1 720.0 749.2 724.5 748.4 726.4C747.6 728.3 746.4 729.6 745.4 730.5C744.4 731.4 742.6 731.3 741.4 732.5C740.2 733.7 738.6 736.8 737.3 738.6C736.0 740.4 733.8 743.9 732.2 745.3C730.6 746.7 727.7 747.5 726.1 748.1C724.5 748.7 722.4 748.7 721.1 749.7C719.8 750.7 717.7 753.1 717 754.8C716.3 756.5 715.6 760.5 716 761.9C716.4 763.3 719.3 763.7 720.1 764.9C720.9 766.1 721.8 769.0 721.5 770C721.2 771.0 719.2 771.7 718 771.6C716.8 771.5 714.8 769.5 713.4 769.6C712.0 769.7 709.1 771.1 707.9 772C706.7 772.9 705.3 774.9 705.3 776.1C705.3 777.3 706.5 778.9 707.9 780.1C709.3 781.3 713.1 782.9 715 784.2C716.9 785.5 720.2 787.7 721.1 789.3C722.0 790.9 721.5 793.7 721.1 795.3C720.7 796.9 719.3 798.8 718 800.4C716.7 802.0 713.4 804.9 712 806.5C710.6 808.1 708.9 810.2 707.9 811.6C706.9 813.0 705.0 814.4 704.9 816.6C704.8 818.8 706.2 824.0 706.9 826.8C707.6 829.6 709.5 834.8 709.9 836.1M712.6 878.1C713.0 878.7 714.4 882.1 715.5 882.6C716.6 883.1 718.8 881.5 720.5 881.6C722.2 881.7 725.6 883.0 727.6 883C729.6 883.0 732.8 882.4 734.7 881.6C736.6 880.8 739.2 879.0 740.8 877.5C742.4 876.0 744.3 872.3 745.9 871.4C747.5 870.5 750.6 870.4 752 871C753.4 871.6 754.8 874.3 756 875.5C757.2 876.7 758.8 878.8 760.1 879.5C761.4 880.2 763.8 879.9 765.1 880.5C766.4 881.1 767.7 883.4 769.2 883.6C770.7 883.8 773.6 881.0 775.3 881.6C777.0 882.2 779.5 885.8 781.4 887.6C783.3 889.4 786.2 893.0 788.4 894.3C790.6 895.6 794.6 895.7 796.6 896.8C798.6 897.9 800.9 900.2 802.6 901.8C804.3 903.4 807.0 906.5 808.7 907.9C810.4 909.3 813.2 910.9 814.8 911.4C816.4 911.9 818.5 910.9 819.9 911.4C821.3 911.9 823.5 913.6 824.9 915C826.3 916.4 828.5 919.4 830 921.1C831.5 922.8 835.2 926.0 835.1 927.2C835.0 928.4 830.6 928.3 829 929.2C827.4 930.1 824.9 931.9 823.9 933.2C822.9 934.5 821.8 936.6 821.9 938.3C822.0 940.0 823.1 943.8 824.3 945C825.5 946.2 828.9 946.1 830 947C831.1 947.9 831.0 950.5 832 951.5C833.0 952.5 835.9 953.0 837.1 953.9C838.3 954.8 838.7 957.2 840.1 957.6C841.5 958.0 845.8 956.1 847.2 956.6C848.6 957.1 848.9 960.3 849.9 961.2C850.9 962.1 853.8 961.4 854.3 962.6C854.8 963.8 853.6 967.5 853.3 969.7C853.0 971.9 851.0 977.1 851.9 977.8C852.8 978.5 857.7 974.5 859.4 974.8C861.1 975.1 863.8 978.3 864.1 979.9C864.4 981.5 862.4 984.2 861.4 985.9C860.4 987.6 858.4 990.5 857.4 992C856.4 993.5 855.4 996.0 854.7 996.1C854.0 996.2 853.1 994.0 852.3 993C851.5 992.0 850.3 989.8 849.3 989C848.3 988.2 846.5 987.5 845.2 987.6C843.9 987.7 840.9 988.8 840.1 990C839.3 991.2 839.3 994.4 839.7 996.1C840.1 997.8 842.1 1000.6 843.2 1002.2C844.3 1003.8 846.3 1005.9 847.2 1007.2C848.1 1008.5 848.3 1011.0 849.3 1011.3C850.3 1011.6 853.1 1009.3 854.3 1009.3C855.5 1009.3 856.7 1010.3 857.4 1011.3C858.1 1012.3 859.5 1014.8 859.4 1016.4C859.3 1018.0 856.5 1021.0 856.4 1022.4C856.3 1023.8 857.4 1025.2 858.4 1026.5C859.4 1027.8 862.1 1030.2 863.4 1031.6C864.7 1033.0 866.3 1035.0 867.5 1036.6C868.7 1038.2 870.3 1041.8 871.6 1042.7C872.9 1043.6 875.4 1042.3 876.6 1042.7C877.8 1043.1 878.8 1044.5 879.7 1045.7C880.6 1046.9 882.3 1050.1 882.7 1050.8"/>
</g>
<rect x="85.6" y="45.45" width="906.85" height="1000.85" fill="none" stroke="#000" stroke-width="1.25"/>
<rect x="94.6" y="50.6" width="218.2" height="49.4" fill="#fff" stroke="#000" stroke-width="1.1"/>
<text transform="translate(343.58 37.70) scale(1.0030 1)" font-size="34.72">08.10.2025 04:15 UTC</text>
<text transform="translate(9.53 100.90) scale(0.9949 1.0)" font-size="16.67">50.25°N</text>
<text transform="translate(20.45 252.30) scale(0.9863 1.0)" font-size="16.67">50.1°N</text>
<text transform="translate(10.54 403.30) scale(0.9948 1.0)" font-size="16.67">49.95°N</text>
<text transform="translate(20.80 553.30) scale(0.9835 1.0)" font-size="16.67">49.8°N</text>
<text transform="translate(10.54 703.20) scale(0.9948 1.0)" font-size="16.67">49.65°N</text>
<text transform="translate(20.90 852.50) scale(0.9799 1.0)" font-size="16.67">49.5°N</text>
<text transform="translate(10.54 1002.10) scale(0.9948 1.0)" font-size="16.67">49.35°N</text>
<text transform="translate(193.27 1066.80) scale(0.9713 1.04)" font-size="16.67">5.6°E</text>
<text transform="translate(321.45 1066.80) scale(0.9853 1.04)" font-size="16.67">5.8°E</text>
<text transform="translate(458.39 1066.80) scale(0.9811 1.04)" font-size="16.67">6°E</text>
<text transform="translate(581.49 1066.80) scale(0.9820 1.04)" font-size="16.67">6.2°E</text>
<text transform="translate(711.19 1066.80) scale(0.9820 1.04)" font-size="16.67">6.4°E</text>
<text transform="translate(839.58 1066.80) scale(0.9890 1.04)" font-size="16.67">6.6°E</text>
<text transform="translate(99.56 69.70) scale(0.9976 1.075)" font-size="16.67">Product: 0.8° Reflectivity</text>
<text transform="translate(99.56 90.80) scale(1.0005 1.075)" font-size="16.67">Data: DWD</text>
<text class="b" transform="translate(397.62 367.65) scale(0.9724 1)" font-size="19.44">Wiltz</text>
<text class="b" transform="translate(506.83 487.50) scale(0.9965 1)" font-size="19.44">Ettelbruck</text>
<text class="b" transform="translate(577.83 710.70) scale(0.9919 1)" font-size="19.44">Findel</text>
<text class="b" transform="translate(435.62 837.30) scale(0.9980 1)" font-size="19.44">Esch/Alzette</text>
<text transform="translate(1105.20 1007.65) scale(0.9900 1)" font-size="27.78">0</text>
<text transform="translate(1105.20 878.92) scale(0.9900 1)" font-size="27.78">10</text>
<text transform="translate(1105.20 750.19) scale(0.9900 1)" font-size="27.78">20</text>
<text transform="translate(1105.20 621.46) scale(0.9900 1)" font-size="27.78">30</text>
<text transform="translate(1105.20 492.74) scale(0.9900 1)" font-size="27.78">40</text>
<text transform="translate(1105.20 364.01) scale(0.9900 1)" font-size="27.78">50</text>
<text transform="translate(1105.20 235.28) scale(0.9900 1)" font-size="27.78">60</text>
<text transform="translate(1105.20 106.55) scale(0.9900 1)" font-size="27.78">70</text>
<text transform="translate(1169 575.54) rotate(-90) scale(0.9728 1)" font-size="27.78">dBZ</text>
<path d="M425.20 378.5H433.80M429.5 373.80V383.00" stroke="#000" stroke-width="1.1"/><path d="M426.00 377.10h1.9v2.8h-1.9zM431.10 377.10h1.9v2.8h-1.9z" fill="#000"/>
<path d="M535.30 498.7H543.90M539.6 494.00V503.20" stroke="#000" stroke-width="1.1"/><path d="M536.10 497.30h1.9v2.8h-1.9zM541.20 497.30h1.9v2.8h-1.9z" fill="#000"/>
<path d="M606.15 721.4H614.75M610.45 716.70V725.90" stroke="#000" stroke-width="1.1"/><path d="M606.95 720.00h1.9v2.8h-1.9zM612.05 720.00h1.9v2.8h-1.9z" fill="#000"/>
<path d="M463.30 848.1H471.90M467.6 843.40V852.60" stroke="#000" stroke-width="1.1"/><path d="M464.10 846.70h1.9v2.8h-1.9zM469.20 846.70h1.9v2.8h-1.9z" fill="#000"/>
<circle cx="829.2" cy="237" r="5" fill="#f01010" stroke="#000" stroke-width="1.1"/>
<rect x="1050.55" y="964.17" width="44.90" height="32.58" fill="#6474a8"/>
<rect x="1050.55" y="931.99" width="44.90" height="32.58" fill="#5066a0"/>
<rect x="1050.55" y="899.80" width="44.90" height="32.58" fill="#4460a0"/>
<rect x="1050.55" y="867.62" width="44.90" height="32.58" fill="#4a7cb4"/>
<rect x="1050.55" y="835.44" width="44.90" height="32.58" fill="#5aa0c8"/>
<rect x="1050.55" y="803.26" width="44.90" height="32.58" fill="#64c0dc"/>
<rect x="1050.55" y="771.08" width="44.90" height="32.58" fill="#64d8c0"/>
<rect x="1050.55" y="738.89" width="44.90" height="32.58" fill="#3cd46c"/>
<rect x="1050.55" y="706.71" width="44.90" height="32.58" fill="#10c820"/>
<rect x="1050.55" y="674.53" width="44.90" height="32.58" fill="#10b41c"/>
<rect x="1050.55" y="642.35" width="44.90" height="32.58" fill="#10a018"/>
<rect x="1050.55" y="610.16" width="44.90" height="32.58" fill="#0c8c14"/>
<rect x="1050.55" y="577.98" width="44.90" height="32.58" fill="#0a7810"/>
<rect x="1050.55" y="545.80" width="44.90" height="32.58" fill="#085c0c"/>
<rect x="1050.55" y="513.62" width="44.90" height="32.58" fill="#447c0c"/>
<rect x="1050.55" y="481.44" width="44.90" height="32.58" fill="#b0b40c"/>
<rect x="1050.55" y="449.25" width="44.90" height="32.58" fill="#ffd800"/>
<rect x="1050.55" y="417.07" width="44.90" height="32.58" fill="#ffb800"/>
<rect x="1050.55" y="384.89" width="44.90" height="32.58" fill="#ff9c00"/>
<rect x="1050.55" y="352.71" width="44.90" height="32.58" fill="#ff8000"/>
<rect x="1050.55" y="320.52" width="44.90" height="32.58" fill="#e00000"/>
<rect x="1050.55" y="288.34" width="44.90" height="32.58" fill="#c00000"/>
<rect x="1050.55" y="256.16" width="44.90" height="32.58" fill="#a00000"/>
<rect x="1050.55" y="223.98" width="44.90" height="32.58" fill="#780000"/>
<rect x="1050.55" y="191.80" width="44.90" height="32.58" fill="#ffdcff"/>
<rect x="1050.55" y="159.61" width="44.90" height="32.58" fill="#ffb4ff"/>
<rect x="1050.55" y="127.43" width="44.90" height="32.58" fill="#ff68ff"/>
<rect x="1050.55" y="95.25" width="44.90" height="32.58" fill="#e830e8"/>
<rect x="1050.55" y="95.25" width="44.90" height="901.10" fill="none" stroke="#000" stroke-width="1.1"/>
<path d="M1095.45 996.35h5M1095.45 867.62h5M1095.45 738.89h5M1095.45 610.16h5M1095.45 481.44h5M1095.45 352.71h5M1095.45 223.98h5M1095.45 95.25h5" stroke="#000" stroke-width="1.1"/>
</svg></body></html>
